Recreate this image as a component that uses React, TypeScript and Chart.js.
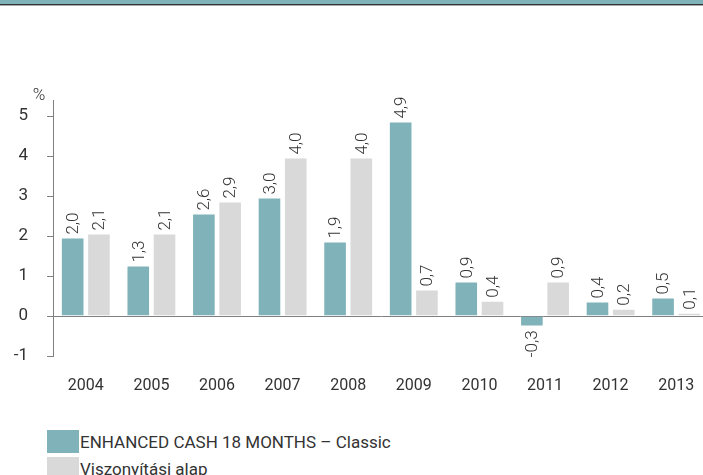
import React, { useEffect, useRef } from "react";
import { Chart, registerables } from "chart.js";

Chart.register(...registerables);

const categories = ["2004", "2005", "2006", "2007", "2008", "2009", "2010", "2011", "2012", "2013"];
const fundValues = [1.96, 1.26, 2.56, 2.96, 1.86, 4.86, 0.86, -0.26, 0.36, 0.46];
const benchmarkValues = [2.06, 2.06, 2.86, 3.96, 3.96, 0.66, 0.38, 0.86, 0.18, 0.08];
const yTicks = [-1, 0, 1, 2, 3, 4, 5];
const fundName = "ENHANCED CASH 18 MONTHS – Classic";
const benchmarkName = "Viszonyítási alap";

const TEAL = "#7fb3b9";
const GREY = "#d9d9d9";
const FONT = "Roboto, 'Noto Sans', sans-serif";
const TEXT = "#333333";

const valueLabels = {
  id: "valueLabels",
  afterDatasetsDraw(chart: any) {
    const ctx = chart.ctx;
    ctx.save();
    ctx.font = `300 17px ${FONT}`;
    ctx.fillStyle = TEXT;
    chart.data.datasets.forEach((ds: any, di: number) => {
      const meta = chart.getDatasetMeta(di);
      meta.data.forEach((el: any, i: number) => {
        const v = ds.data[i] as number;
        const txt = v.toFixed(1).replace(".", ",");
        ctx.save();
        if (v >= 0) {
          ctx.translate(el.x, el.y - 3);
          ctx.rotate(-Math.PI / 2);
          ctx.textAlign = "left";
        } else {
          ctx.translate(el.x, el.y + 4);
          ctx.rotate(-Math.PI / 2);
          ctx.textAlign = "right";
        }
        ctx.textBaseline = "middle";
        ctx.fillText(txt, 0, 1);
        ctx.restore();
      });
    });
    ctx.font = `300 17px ${FONT}`;
    ctx.textAlign = "center";
    ctx.textBaseline = "middle";
    ctx.fillText("%", 39, 96);
    ctx.restore();
  },
};

export default function App() {
  const ref = useRef<HTMLCanvasElement>(null);
  useEffect(() => {
    if (!ref.current) return;
    const chart = new Chart(ref.current, {
      type: "bar",
      data: {
        labels: categories,
        datasets: [
          { label: fundName, data: fundValues, backgroundColor: TEAL, borderColor: "#ffffff", borderWidth: 1, barPercentage: 0.9, categoryPercentage: 0.8 },
          { label: benchmarkName, data: benchmarkValues, backgroundColor: GREY, borderColor: "#ffffff", borderWidth: 1, barPercentage: 0.9, categoryPercentage: 0.8 },
        ],
      },
      options: {
        responsive: false,
        animation: false,
        devicePixelRatio: 1,
        layout: { padding: { left: 0, top: 100, right: 11, bottom: 0 } },
        plugins: { legend: { display: false }, tooltip: { enabled: false } },
        scales: {
          x: {
            grid: { display: false, drawTicks: false },
            border: { display: false },
            ticks: { font: { family: FONT, size: 16 }, color: TEXT, padding: 20 },
            afterFit: (s: any) => { s.height = 44; },
          },
          y: {
            min: -1,
            max: 5.4,
            afterBuildTicks: (s: any) => { s.ticks = yTicks.map((v) => ({ value: v })); },
            afterFit: (s: any) => { s.width = 53; },
            grid: {
              color: (c: any) => (c.tick && c.tick.value === 0 ? "#808080" : "rgba(0,0,0,0)"),
              tickColor: "#808080",
              tickLength: 6,
              lineWidth: 1,
            },
            border: { display: true, color: "#808080", width: 1 },
            ticks: { font: { family: FONT, size: 17 }, color: TEXT, padding: 19, callback: (v: any) => String(v) },
          },
        },
      },
      plugins: [valueLabels],
    });
    return () => chart.destroy();
  }, []);

  return (
    <div style={{ position: "fixed", left: 0, top: 0, width: 703, height: 475, overflow: "hidden", background: "#fff", fontFamily: FONT }}>
      <div style={{ position: "absolute", left: 0, top: 0, width: 703, height: 4, background: TEAL }} />
      <div style={{ position: "absolute", left: 0, top: 4, width: 703, height: 1, background: "#333" }} />
      <div style={{ position: "absolute", left: 0, top: 5, width: 703, height: 1, background: "#aaa" }} />
      <canvas ref={ref} width={720} height={400} style={{ position: "absolute", left: 0, top: 0, width: 720, height: 400 }} />
      <div style={{ position: "absolute", left: 47, top: 430, height: 23, display: "flex", alignItems: "center" }}>
        <div style={{ width: 32, height: 23, background: TEAL }} />
        <span style={{ fontSize: 17, color: TEXT, marginLeft: 1 }}>{fundName}</span>
      </div>
      <div style={{ position: "absolute", left: 47, top: 457, height: 23, display: "flex", alignItems: "center" }}>
        <div style={{ width: 32, height: 23, background: GREY }} />
        <span style={{ fontSize: 17, color: TEXT, marginLeft: 1 }}>{benchmarkName}</span>
      </div>
    </div>
  );
}
